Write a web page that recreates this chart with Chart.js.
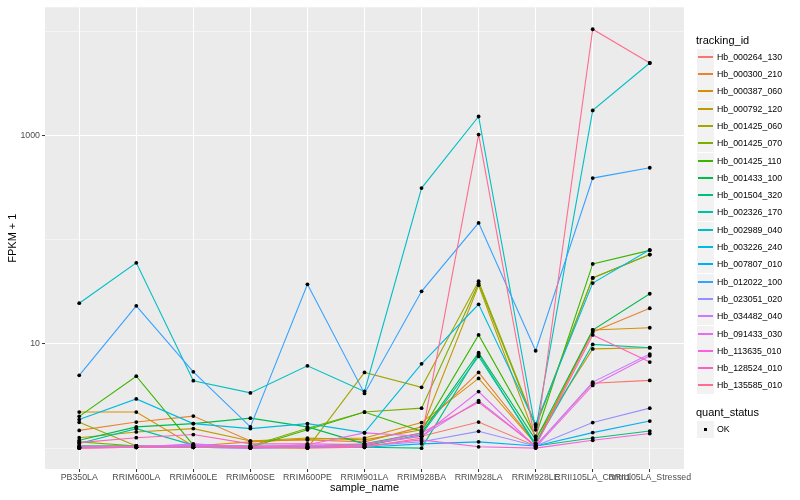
<!DOCTYPE html>
<html>
<head>
<meta charset="utf-8">
<script src="https://cdn.jsdelivr.net/npm/chart.js@4.4.1/dist/chart.umd.min.js"></script>
<style>
  body { margin: 0; background: #fff; font-family: "Liberation Sans", Arial, sans-serif; }
  #wrap { position: relative; width: 800px; height: 500px; }
  #legend div { position: absolute; white-space: nowrap; }
  .ttl { font-size: 11px; line-height: 13px; color: #000; }
  .key { width: 17px; height: 17px; background: #f2f2f2; }
  .lbl { font-size: 8.8px; line-height: 12px; color: #000; }
</style>
</head>
<body>
<div id="wrap">
  <canvas id="chart" width="800" height="500"></canvas>
  <div id="legend"></div>
</div>
<script>
// x categories
const sampleNames = ['PB350LA', 'RRIM600LA', 'RRIM600LE', 'RRIM600SE', 'RRIM600PE', 'RRIM901LA',
    'RRIM928BA', 'RRIM928LA', 'RRIM928LE', 'RRII105LA_Control', 'RRII105LA_Stressed'];

const trackingIds = ['Hb_000264_130', 'Hb_000300_210', 'Hb_000387_060', 'Hb_000792_120', 'Hb_001425_060',
    'Hb_001425_070', 'Hb_001425_110', 'Hb_001433_100', 'Hb_001504_320', 'Hb_002326_170',
    'Hb_002989_040', 'Hb_003226_240', 'Hb_007807_010', 'Hb_012022_100', 'Hb_023051_020',
    'Hb_034482_040', 'Hb_091433_030', 'Hb_113635_010', 'Hb_128524_010', 'Hb_135585_010'];

// ggplot hue palette, 20 levels
const lineColours = ['#F8766D', '#EA8331', '#D89000', '#C09B00', '#A3A500', '#7CAE00', '#39B600', '#00BB4E',
    '#00BF7D', '#00C1A3', '#00BFC4', '#00BAE0', '#00B0F6', '#35A2FF', '#9590FF', '#C77CFF',
    '#E76BF3', '#FA62DB', '#FF62BC', '#FF6C91'];

// FPKM + 1 per sample
const hb_000264_130 = [1.05, 1.05, 1.05, 1.02, 1.05, 1.08, 1.3, 1.78, 1.05, 4.2, 4.47];
const hb_000300_210 = [1.48, 1.78, 2.03, 1.17, 1.2, 1.15, 1.6, 5.33, 1.1, 13, 22];
const hb_000387_060 = [2.22, 2.22, 1.05, 1.15, 1.22, 1.25, 1.76, 4.67, 1.1, 13.6, 14.3];
const hb_000792_120 = [1.26, 1.43, 1.54, 1.17, 1.25, 1.2, 1.5, 36.6, 1.25, 8.96, 9.2];
const hb_001425_060 = [1.77, 1.05, 1.02, 1.02, 1.0, 5.33, 3.83, 40, 1.65, 43, 72];
const hb_001425_070 = [1.15, 1.05, 1.02, 1.05, 1.55, 2.22, 2.42, 38, 1.6, 43, 72];
const hb_001425_110 = [2.02, 4.9, 1.07, 1.02, 1.5, 2.22, 1.45, 12.2, 1.3, 58.6, 79];
const hb_001433_100 = [1.19, 1.6, 1.72, 1.94, 1.6, 1.1, 1.4, 8.25, 1.2, 13.6, 30.3];
const hb_001504_320 = [1.05, 1.05, 1.02, 1.02, 1.02, 1.02, 1.0, 8.0, 1.05, 1.25, 1.46];
const hb_002326_170 = [1.11, 1.54, 1.07, 1.05, 1.05, 1.05, 1.35, 7.6, 1.1, 9.9, 9.2];
const hb_002989_040 = [24.6, 60, 4.44, 3.39, 6.17, 3.5, 313, 1520, 1.5, 1740, 4960];
const hb_003226_240 = [1.88, 2.97, 1.72, 1.54, 1.72, 1.41, 6.45, 24, 1.7, 38.4, 80];
const hb_007807_010 = [1.02, 1.02, 1.02, 1.0, 1.02, 1.02, 1.1, 1.15, 1.05, 1.41, 1.82];
const hb_012022_100 = [5.0, 23.2, 5.4, 1.6, 37.3, 3.35, 32, 145, 8.6, 390, 490];
const hb_023051_020 = [1.02, 1.02, 1.05, 1.02, 1.02, 1.05, 1.15, 1.45, 1.05, 1.76, 2.42];
const hb_034482_040 = [1.02, 1.05, 1.07, 1.05, 1.05, 1.1, 1.3, 2.86, 1.05, 4.3, 8.0];
const hb_091433_030 = [1.02, 1.02, 1.1, 1.02, 1.08, 1.4, 1.3, 3.49, 1.02, 4.0, 7.7];
const hb_113635_010 = [1.0, 1.02, 1.02, 1.0, 1.02, 1.05, 1.2, 1.03, 1.0, 1.19, 1.38];
const hb_128524_010 = [1.13, 1.26, 1.35, 1.1, 1.1, 1.08, 1.4, 2.76, 1.05, 12.2, 6.7];
const hb_135585_010 = [1.0, 1.02, 1.02, 1.02, 1.0, 1.02, 1.25, 1020, 1.1, 10450, 4960];

const seriesValues = [hb_000264_130, hb_000300_210, hb_000387_060, hb_000792_120, hb_001425_060,
    hb_001425_070, hb_001425_110, hb_001433_100, hb_001504_320, hb_002326_170,
    hb_002989_040, hb_003226_240, hb_007807_010, hb_012022_100, hb_023051_020,
    hb_034482_040, hb_091433_030, hb_113635_010, hb_128524_010, hb_135585_010];

const yBreaks = [1, 10, 100, 1000, 10000];
const yLabelled = [10, 1000];

const FONT = '"Liberation Sans", Arial, sans-serif';

// lines first, points on top (like geom_line + geom_point)
const datasets = [];
seriesValues.forEach((vals, i) => {
    const pts = vals.map((v, j) => ({ x: j, y: v }));
    datasets.push({
        label: trackingIds[i],
        data: pts,
        borderColor: lineColours[i],
        borderWidth: 1.1,
        pointRadius: 0,
        tension: 0,
        order: 100 - i
    });
    datasets.push({
        label: trackingIds[i] + ' pts',
        data: pts,
        showLine: false,
        pointRadius: 1.9,
        pointBackgroundColor: '#000',
        pointBorderWidth: 0,
        order: 0
    });
});

const panelBg = {
    id: 'panelBg',
    beforeDraw(chart) {
        const { ctx, chartArea: a } = chart;
        ctx.save();
        ctx.fillStyle = '#fff';
        ctx.fillRect(0, 0, chart.width, chart.height);
        ctx.fillStyle = '#ebebeb';
        ctx.fillRect(a.left, a.top, a.right - a.left, a.bottom - a.top);
        ctx.restore();
    }
};

new Chart(document.getElementById('chart'), {
    type: 'line',
    data: { datasets },
    plugins: [panelBg],
    options: {
        responsive: false,
        animation: false,
        layout: { padding: { top: 4, right: 116, left: 0, bottom: 0 } },
        plugins: { legend: { display: false }, tooltip: { enabled: false } },
        scales: {
            x: {
                type: 'linear',
                min: -0.6,
                max: 10.6,
                bounds: 'data',
                afterBuildTicks: s => { s.ticks = sampleNames.map((n, j) => ({ value: j })); },
                afterFit: s => { s.height = 31; },
                ticks: {
                    callback: v => sampleNames[v],
                    autoSkip: false, maxRotation: 0, minRotation: 0,
                    color: '#4d4d4d', font: { size: 8.8, family: FONT }, padding: 0
                },
                grid: { color: '#fff', lineWidth: 1.07, tickLength: 3, tickColor: '#333', tickWidth: 1 },
                border: { display: false },
                title: { display: true, text: 'sample_name', color: '#000',
                    font: { size: 11, family: FONT }, padding: { top: 0, bottom: 5.4 } }
            },
            y: {
                type: 'logarithmic',
                min: Math.pow(10, -0.2),
                max: Math.pow(10, 4.23),
                bounds: 'data',
                afterBuildTicks: s => { s.ticks = yBreaks.map(v => ({ value: v })); },
                afterFit: s => { s.width = 45; },
                ticks: {
                    callback: v => yLabelled.includes(v) ? String(v) : '',
                    autoSkip: false,
                    color: '#4d4d4d', font: { size: 8.8, family: FONT }, padding: 2
                },
                grid: {
                    color: '#fff',
                    lineWidth: c => yLabelled.includes(c.tick.value) ? 1.07 : 0.53,
                    tickLength: 3,
                    tickColor: c => yLabelled.includes(c.tick.value) ? '#333' : 'rgba(0,0,0,0)',
                    tickWidth: 1
                },
                border: { display: false },
                title: { display: true, text: 'FPKM + 1', color: '#000',
                    font: { size: 11, family: FONT }, padding: { top: 6.4, bottom: 0 } }
            }
        }
    }
});

// legend, laid out like ggplot's right-hand guide
const legend = document.getElementById('legend');
function add(cls, left, top, html) {
    const d = document.createElement('div');
    d.className = cls;
    d.style.left = left + 'px';
    d.style.top = top + 'px';
    d.innerHTML = html;
    legend.appendChild(d);
    return d;
}
add('ttl', 696, 34, 'tracking_id');
trackingIds.forEach((id, i) => {
    const cy = Math.round(56.7 + i * 17.3);
    const key = add('key', 697, cy - 8, '');
    const ln = document.createElement('div');
    Object.assign(ln.style, { left: '1px', top: '7px', width: '15px', height: '2px', background: lineColours[i] });
    key.appendChild(ln);
    add('lbl', 717, cy - 6, id);
});
add('ttl', 696, 406, 'quant_status');
const okKey = add('key', 697, 429 - 8, '');
const sq = document.createElement('div');
Object.assign(sq.style, { left: '7px', top: '7px', width: '3px', height: '3px', background: '#000' });
okKey.appendChild(sq);
add('lbl', 717, 429 - 6, 'OK');
</script>
</body>
</html>
